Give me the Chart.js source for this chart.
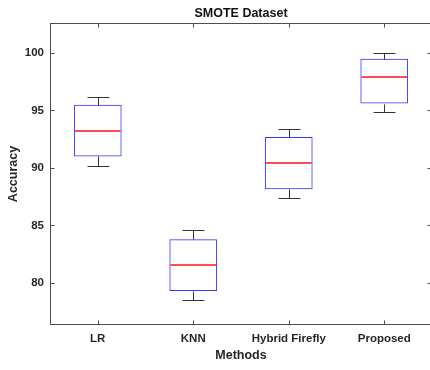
<!DOCTYPE html>
<html>
<head>
<meta charset="utf-8">
<script src="https://cdn.jsdelivr.net/npm/chart.js@4.4.0/dist/chart.umd.min.js"></script>
<style>
  html, body { margin: 0; padding: 0; background: #fff; overflow: hidden; }
  #wrap { width: 432px; height: 370px; }
</style>
</head>
<body>
<div id="wrap"><canvas id="boxChart" width="432" height="370"></canvas></div>
<script>
// Data
const methods = ['LR', 'KNN', 'Hybrid Firefly', 'Proposed'];
const whiskerLow = [90.2, 78.5, 87.4, 94.9];
const q1 = [91.0, 79.3, 88.15, 95.6];
const median = [93.25, 81.6, 90.45, 97.9];
const q3 = [95.5, 83.8, 92.7, 99.5];
const whiskerHigh = [96.2, 84.6, 93.4, 100.0];
const yTicks = [80, 85, 90, 95, 100];

const fontFamily = '"Liberation Sans", Arial, Helvetica, sans-serif';
const textColor = '#262626';
const axisColor = '#4d4d4d';

// whiskers, medians, frame and inward ticks (MATLAB style)
const boxExtras = {
  id: 'boxExtras',
  afterDatasetsDraw(chart) {
    const { ctx, chartArea: a, scales: { x, y } } = chart;
    const bars = chart.getDatasetMeta(0).data;
    const py = v => Math.round(y.getPixelForValue(v)) + 0.5;
    ctx.save();
    ctx.lineWidth = 1;
    bars.forEach((bar, i) => {
      const cx = Math.round(bar.x) + 0.5;
      const half = bar.width / 2;
      const cap = bar.width * 0.23;
      const yHi = py(whiskerHigh[i]), yQ3 = py(q3[i]);
      const yQ1 = py(q1[i]), yLo = py(whiskerLow[i]);
      ctx.strokeStyle = '#333333';
      ctx.lineWidth = 1;
      ctx.beginPath();
      ctx.moveTo(cx, yHi); ctx.lineTo(cx, yQ3);
      ctx.moveTo(cx, yQ1); ctx.lineTo(cx, yLo);
      ctx.moveTo(cx - cap, yHi); ctx.lineTo(cx + cap, yHi);
      ctx.moveTo(cx - cap, yLo); ctx.lineTo(cx + cap, yLo);
      ctx.stroke();
      // median line (soft, like the original)
      const yMed = Math.round(y.getPixelForValue(median[i]));
      ctx.strokeStyle = '#ff1010';
      ctx.lineWidth = 1.3;
      ctx.beginPath();
      ctx.moveTo(bar.x - half + 1, yMed);
      ctx.lineTo(bar.x + half - 1, yMed);
      ctx.stroke();
    });

    ctx.strokeStyle = axisColor;
    ctx.lineWidth = 1;
    const L = Math.round(a.left) + 0.5, R = Math.round(a.right) - 0.5;
    const T = Math.round(a.top) + 0.5, B = Math.round(a.bottom) - 0.5;
    ctx.strokeRect(L, T, R - L, B - T);
    ctx.beginPath();
    yTicks.forEach(v => {
      const ty = py(v);
      ctx.moveTo(L, ty); ctx.lineTo(L + 4, ty);
      ctx.moveTo(R, ty); ctx.lineTo(R - 4, ty);
    });
    methods.forEach((m, i) => {
      const tx = Math.round(x.getPixelForValue(i)) + 0.5;
      ctx.moveTo(tx, B); ctx.lineTo(tx, B - 4);
      ctx.moveTo(tx, T); ctx.lineTo(tx, T + 4);
    });
    ctx.stroke();
    ctx.restore();
  }
};

const ctx = document.getElementById('boxChart').getContext('2d');
new Chart(ctx, {
  type: 'bar',
  data: {
    labels: methods,
    datasets: [{
      label: 'Accuracy',
      data: methods.map((m, i) => [q1[i], q3[i]]),
      backgroundColor: 'rgba(0, 0, 0, 0)',
      borderColor: '#3434ff',
      borderWidth: 1,
      borderSkipped: false,
      barPercentage: 0.5,
      categoryPercentage: 1.0
    }]
  },
  options: {
    responsive: false,
    animation: false,
    layout: { padding: 0 },
    plugins: {
      legend: { display: false },
      tooltip: { enabled: false },
      title: {
        display: true,
        fullSize: false,
        text: 'SMOTE Dataset',
        color: '#111111',
        font: { family: fontFamily, size: 12.5, weight: 'bold' },
        padding: { top: 6, bottom: 2 }
      }
    },
    scales: {
      x: {
        grid: { display: false, drawTicks: false },
        border: { display: false },
        ticks: {
          color: textColor,
          padding: 7,
          font: { family: fontFamily, size: 11.5, weight: 'bold' }
        },
        title: {
          display: true,
          text: 'Methods',
          color: textColor,
          font: { family: fontFamily, size: 12.5, weight: 'bold' },
          padding: { top: 0, bottom: 6.5 }
        },
        afterFit: s => { s.height = 45; }
      },
      y: {
        min: 76.35,
        max: 102.6,
        grid: { display: false, drawTicks: false },
        border: { display: false },
        afterBuildTicks: s => { s.ticks = yTicks.map(v => ({ value: v })); },
        ticks: {
          color: textColor,
          padding: 6,
          font: { family: fontFamily, size: 11.5, weight: 'bold' }
        },
        title: {
          display: true,
          text: 'Accuracy',
          color: textColor,
          font: { family: fontFamily, size: 12.5, weight: 'bold' },
          padding: { top: 6, bottom: 0 }
        },
        afterFit: s => { s.width = 50; }
      }
    }
  },
  plugins: [boxExtras]
});
</script>
</body>
</html>
